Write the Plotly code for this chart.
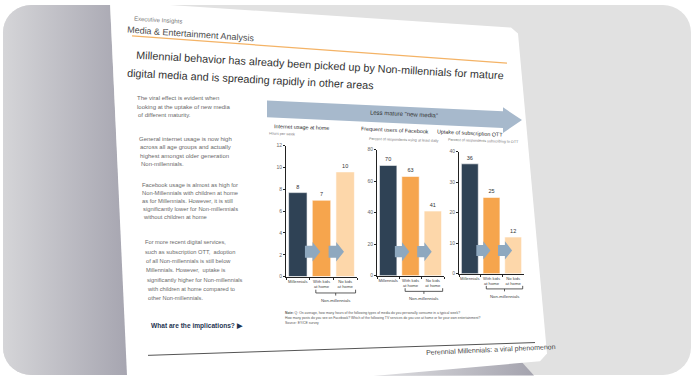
import numpy as np
import plotly.graph_objects as go

W, H = 694, 380
FONT = "Liberation Sans, Arial, sans-serif"

# ---------------- data ----------------
categories = ["Millennials", "With kids<br>at home", "No kids<br>at home"]
group_label = "Non-millennials"
bar_colors = ["#2f4255", "#f6a54d", "#fdd7aa"]

internet_hours = [7.7, 7.0, 9.6]
facebook_daily = [70, 63, 41]
ott_uptake = [36, 25, 12]

chart_titles = ["Internet usage at home", "Frequent users of Facebook", "Uptake of subscription OTT"]
chart_subtitles = ["Hours per week", "Percent of respondents using at least daily",
                   "Percent of respondents subscribing to OTT"]
y_max = [12, 80, 40]
y_ticks = [[0, 2, 4, 6, 8, 10, 12], [0, 20, 40, 60, 80], [0, 10, 20, 30, 40]]
series = [internet_hours, facebook_daily, ott_uptake]

header_small = "Executive Insights"
header_big = "Media & Entertainment Analysis"
title_1 = "Millennial behavior has already been picked up by Non-millennials for mature"
title_2 = "digital media and is spreading rapidly in other areas"
banner_text = 'Less mature "new media"'
paragraphs = [
    ["The viral effect is evident when", "looking at the uptake of new media", "of different maturity."],
    ["General internet usage is now high", "across all age groups and actually",
     "highest amongst older generation", "Non-millennials."],
    ["Facebook usage is almost as high for", "Non-Millennials with children at home",
     "as for Millennials. However, it is still", "significantly lower for Non-millennials",
     "without children at home"],
    ["For more recent digital services,", "such as subscription OTT,  adoption",
     "of all Non-millennials is still below", "Millennials. However,  uptake is",
     "significantly higher for Non-millennials", "with children at home compared to",
     "other Non-millennials."],
]
implications = "What are the implications? \u25B6"
note_lines = [
    "<b>Note:</b> Q: On average, how many hours of the following types of media do you personally consume in a typical week?",
    "How many posts do you see on Facebook? Which of the following TV services do you use at home or for your own entertainment?",
    "Source: EY/CE survey",
]
footer = "Perennial Millennials: a viral phenomenon"

# ---------------- helpers ----------------
def px(x):
    return x / W


def py(y):
    return 1 - y / H


annotations = []
shapes = []


def tilted(text, p0, p1, size, color, bold=False):
    (x0, y0), (x1, y1) = p0, p1
    ang = float(np.degrees(np.arctan2(y1 - y0, x1 - x0)))
    t = f"<b>{text}</b>" if bold else text
    annotations.append(dict(text=t, x=px((x0 + x1) / 2), y=py((y0 + y1) / 2), xref="paper", yref="paper",
                            showarrow=False, textangle=ang, xanchor="center", yanchor="middle",
                            font=dict(size=size, color=color, family=FONT)))


def flat(text, x, y, size, color, bold=False):
    t = f"<b>{text}</b>" if bold else text
    annotations.append(dict(text=t, x=px(x), y=py(y), xref="paper", yref="paper", showarrow=False,
                            xanchor="left", yanchor="middle", font=dict(size=size, color=color, family=FONT)))


def rounded_arc(cx, cy, r, a0, a1, n=10):
    t = np.radians(np.linspace(a0, a1, n))
    return list(cx + r * np.cos(t)), list(cy + r * np.sin(t))


fig = go.Figure()

# ---------------- background (pixel axes x/y) ----------------
r = 28
x0b, y0b, x1b, y1b = 3, 2, 691, 378
xs, ys = [], []
for cx, cy, a in [(x1b - r, y0b + r, -90), (x1b - r, y1b - r, 0), (x0b + r, y1b - r, 90), (x0b + r, y0b + r, 180)]:
    ax_, ay_ = rounded_arc(cx, cy, r, a, a + 90)
    xs += ax_
    ys += ay_
fig.add_trace(go.Scatter(x=xs + [xs[0]], y=ys + [ys[0]], fill="toself", fillcolor="#e1e1e1",
                         line=dict(width=0), mode="lines", hoverinfo="skip", showlegend=False))

# left gradient area
gx, gy = [110, 128, x0b + r], [y0b, y1b, y1b]
ax_, ay_ = rounded_arc(x0b + r, y1b - r, r, 90, 180)
gx += ax_
gy += ay_
ax_, ay_ = rounded_arc(x0b + r, y0b + r, r, 180, 270)
gx += ax_ + [110]
gy += ay_ + [y0b]
fig.add_trace(go.Scatter(x=gx, y=gy, fill="toself", mode="lines", line=dict(width=0),
                         fillgradient=dict(type="horizontal", colorscale=[[0, "#d5d5d8"], [1, "#a6a5b0"]]),
                         hoverinfo="skip", showlegend=False))

# bottom shadow wedge
fig.add_trace(go.Scatter(x=[360, 522, 534, 360], y=[379, 365, 378.5, 379], fill="toself", mode="lines",
                         line=dict(width=0),
                         fillgradient=dict(type="horizontal", colorscale=[[0, "#e4e4e6"], [1, "#a4a3ae"]]),
                         hoverinfo="skip", showlegend=False))

# slide
fig.add_trace(go.Scatter(x=[110, 511, 518, 547, 540, 128, 110], y=[-2, 25, 31, 356, 364, 401, -2],
                         fill="toself", fillcolor="#ffffff", mode="lines", line=dict(width=0),
                         hoverinfo="skip", showlegend=False))

layout_axes = dict(
    xaxis=dict(domain=[0, 1], range=[0, W], visible=False, fixedrange=True),
    yaxis=dict(domain=[0, 1], range=[H, 0], visible=False, fixedrange=True),
)

# ---------------- header / titles ----------------
tilted(header_small, (133, 16), (183, 19), 6, "#777777")
tilted(header_big, (133, 27), (249, 35), 9, "#4d4d4d")
shapes.append(dict(type="line", xref="paper", yref="paper", x0=px(132), y0=py(33.5), x1=px(507), y1=py(61),
                   line=dict(color="#f4b366", width=1.2), layer="above"))
tilted(title_1, (133, 53), (506, 74), 10.8, "#333333")
tilted(title_2, (133, 71), (368, 83), 10.8, "#333333")

# ---------------- left text column ----------------
para_y = [[97, 105.5, 114], [138, 146.5, 155, 163.5], [185, 193, 201, 209, 217],
          [243, 252.5, 262, 271.5, 281, 290.5, 300]]
para_size = [6, 6, 5.8, 5.7]
for lines, ys_, sz in zip(paragraphs, para_y, para_size):
    for line, yy in zip(lines, ys_):
        flat(line, 135 + (yy - 96) * 0.052, yy, sz, "#6a6a6a")
flat(implications, 149, 328, 6.6, "#1f3552", bold=True)

# ---------------- banner arrow ----------------
bp = [(267, 99), (503, 110), (503, 106), (522, 119), (503, 132), (503, 127), (267, 116)]
path = "M " + " L ".join(f"{px(a):.5f},{py(b):.5f}" for a, b in bp) + " Z"
shapes.append(dict(type="path", xref="paper", yref="paper", path=path, fillcolor="#a7b9cc",
                   line=dict(width=0), layer="above"))
tilted(banner_text, (372, 111), (437, 114), 6, "#333333")

# ---------------- chart titles ----------------
title_pos = [((270, 124.5), (332, 126.5)), ((362, 128), (428, 131)), ((446, 130.5), (494, 133))]
sub_pos = [((270, 132.5), (294, 133.5)), ((362, 137.5), (446, 140)), ((446, 138.5), (520, 141))]
for t, s, tp, sp in zip(chart_titles, chart_subtitles, title_pos, sub_pos):
    tilted(t, tp[0], tp[1], 5.4, "#2a2a2a")
    tilted(s, sp[0], sp[1], 3.7, "#777777")

# ---------------- bar charts ----------------
boxes = [(286, 357, 145, 278), (377, 444, 149, 277), (459, 524, 151, 275)]
for i, (vals, box, ym, tv) in enumerate(zip(series, boxes, y_max, y_ticks)):
    k = i + 2
    xa, ya = f"x{k}", f"y{k}"
    fig.add_trace(go.Bar(x=categories, y=vals, marker=dict(color=bar_colors, line=dict(color="white", width=0.6)),
                         width=0.78, texttemplate="%{y:.0f}", textposition="outside", cliponaxis=False,
                         textfont=dict(size=5.5, color="#333333", family=FONT),
                         xaxis=xa, yaxis=ya, showlegend=False, hoverinfo="skip"))
    bx0, bx1, by0, by1 = box
    layout_axes[f"xaxis{k}"] = dict(domain=[px(bx0), px(bx1)], anchor=ya, showgrid=False, zeroline=False,
                                    showline=True, linecolor="#222222", linewidth=1, ticks="outside",
                                    tickson="boundaries", ticklen=2, tickcolor="#222222", tickangle=0,
                                    tickfont=dict(size=4.2, color="#444444", family=FONT), fixedrange=True)
    layout_axes[f"yaxis{k}"] = dict(domain=[py(by1), py(by0)], anchor=xa, range=[0, ym], tickvals=tv,
                                    showgrid=False, zeroline=False, showline=True, linecolor="#222222",
                                    linewidth=1, ticks="outside", ticklen=2, tickcolor="#222222",
                                    tickfont=dict(size=5, color="#666666", family=FONT), fixedrange=True)
    # arrows between bars
    for j in range(2):
        xs_ = (j + 0.5 + 0.30) / 3
        xb_ = (j + 0.5 + 0.62) / 3
        xt_ = (j + 0.5 + 0.95) / 3
        yc, bh, hh = 0.19, 0.045, 0.075
        pts = [(xs_, yc - bh), (xb_, yc - bh), (xb_, yc - hh), (xt_, yc), (xb_, yc + hh), (xb_, yc + bh),
               (xs_, yc + bh)]
        p = "M " + " L ".join(f"{a:.4f},{b:.4f}" for a, b in pts) + " Z"
        shapes.append(dict(type="path", xref=f"{xa} domain", yref=f"{ya} domain", path=p,
                           fillcolor="#8ea8bf", line=dict(width=0), layer="above"))
    # bracket for Non-millennials
    bpath = "M 0.42,-0.10 L 0.42,-0.125 L 0.98,-0.125 L 0.98,-0.10 M 0.70,-0.125 L 0.70,-0.145"
    shapes.append(dict(type="path", xref=f"{xa} domain", yref=f"{ya} domain", path=bpath,
                       line=dict(color="#333333", width=0.8), layer="above"))
    annotations.append(dict(text=group_label, x=0.70, y=-0.185, xref=f"{xa} domain", yref=f"{ya} domain",
                            showarrow=False, xanchor="center", yanchor="middle",
                            font=dict(size=4.3, color="#444444", family=FONT)))

# ---------------- notes and footer ----------------
for n, yy in zip(note_lines, [315, 320, 325]):
    flat(n, 283, yy, 3.4, "#555555")
shapes.append(dict(type="line", xref="paper", yref="paper", x0=px(148), y0=py(358), x1=px(535), y1=py(345),
                   line=dict(color="#555555", width=1), layer="above"))
tilted(footer, (447, 355), (535, 351), 7, "#444444")

fig.update_layout(
    width=W, height=H, margin=dict(l=0, r=0, t=0, b=0),
    paper_bgcolor="#ffffff", plot_bgcolor="rgba(0,0,0,0)",
    showlegend=False, hovermode=False, bargap=0.2,
    annotations=annotations, shapes=shapes, **layout_axes,
)

fig.write_html("out.html", config={"displayModeBar": False},
               post_script="document.body.style.margin='0';document.body.style.padding='0';")
